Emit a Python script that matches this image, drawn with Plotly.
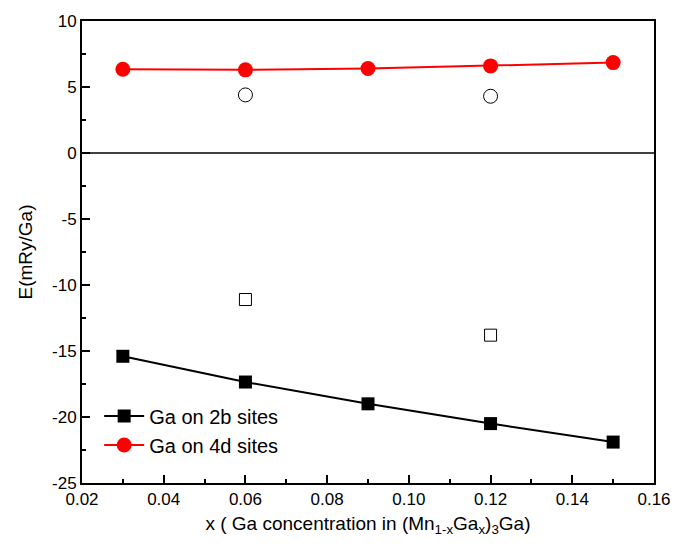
import plotly.graph_objects as go

x_vals = [0.03, 0.06, 0.09, 0.12, 0.15]
e_2b = [-15.4, -17.35, -19.0, -20.5, -21.9]
e_4d = [6.35, 6.3, 6.4, 6.6, 6.85]

x_open = [0.06, 0.12]
e_2b_open = [-11.1, -13.8]
e_4d_open = [4.4, 4.3]

y_ticks = [-25, -20, -15, -10, -5, 0, 5, 10]
y_ticktext = ["-25", "-20", "-15", "-10", "-5", "0", "5", "10"]
x_ticks = [0.02, 0.04, 0.06, 0.08, 0.10, 0.12, 0.14, 0.16]
x_ticktext = ["0.02", "0.04", "0.06", "0.08", "0.10", "0.12", "0.14", "0.16"]

FONT = "Arial, Liberation Sans, sans-serif"

fig = go.Figure()

fig.add_trace(go.Scatter(
    x=x_vals, y=e_2b, mode="lines+markers", name="Ga on 2b sites",
    line=dict(color="black", width=2),
    marker=dict(symbol="square", size=13, color="black"),
))
fig.add_trace(go.Scatter(
    x=x_vals, y=e_4d, mode="lines+markers", name="Ga on 4d sites",
    line=dict(color="#ff0000", width=2),
    marker=dict(symbol="circle", size=15, color="#ff0000"),
))
fig.add_trace(go.Scatter(
    x=x_open, y=e_2b_open, mode="markers", showlegend=False,
    marker=dict(symbol="square-open", size=12, color="black", line=dict(width=1)),
))
fig.add_trace(go.Scatter(
    x=x_open, y=e_4d_open, mode="markers", showlegend=False,
    marker=dict(symbol="circle-open", size=14, color="black", line=dict(width=1)),
))

fig.add_hline(y=0, line=dict(color="black", width=1.5))

fig.update_layout(
    width=688, height=547,
    margin=dict(l=82, r=34, t=16, b=64),
    plot_bgcolor="white", paper_bgcolor="white",
    font=dict(family=FONT, color="black", size=17),
    showlegend=True,
    legend=dict(
        x=0.03, y=0.04, xanchor="left", yanchor="bottom",
        bgcolor="rgba(0,0,0,0)", font=dict(size=20, family=FONT),
        tracegroupgap=0, itemwidth=40,
    ),
    xaxis=dict(
        range=[0.02, 0.16], tickvals=x_ticks, ticktext=x_ticktext,
        showgrid=False, zeroline=False,
        showline=True, linecolor="black", linewidth=2, mirror=True,
        ticks="inside", ticklen=8, tickwidth=1.5, tickcolor="black",
        minor=dict(ticks="inside", ticklen=4, tickwidth=1.5, tickcolor="black", dtick=0.01),
        tickfont=dict(size=17),
        title=dict(text="x ( Ga concentration in (Mn<sub>1-x</sub>Ga<sub>x</sub>)<sub>3</sub>Ga)",
                   font=dict(size=19), standoff=8),
    ),
    yaxis=dict(
        range=[-25, 10], tickvals=y_ticks, ticktext=y_ticktext,
        showgrid=False, zeroline=False,
        showline=True, linecolor="black", linewidth=2, mirror=True,
        ticks="inside", ticklen=8, tickwidth=1.5, tickcolor="black",
        minor=dict(ticks="inside", ticklen=4, tickwidth=1.5, tickcolor="black", dtick=2.5),
        tickfont=dict(size=17),
        title=dict(text="E(mRy/Ga)", font=dict(size=19), standoff=14),
    ),
)

fig.write_html("out.html")
